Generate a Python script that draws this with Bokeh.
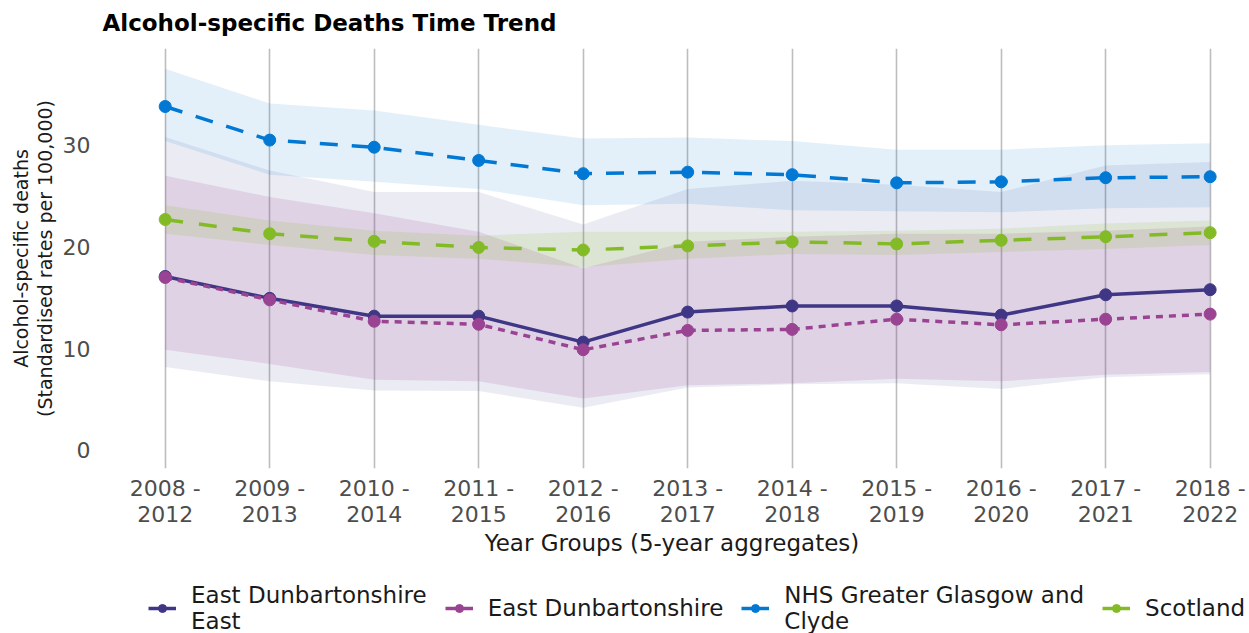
from bokeh.plotting import figure
from bokeh.layouts import column
from bokeh.models import Legend, LegendItem, FixedTicker
from bokeh.embed import file_html
from bokeh.resources import INLINE

# ---------------- data ----------------
year_groups = ["2008 -\n2012", "2009 -\n2013", "2010 -\n2014", "2011 -\n2015", "2012 -\n2016",
               "2013 -\n2017", "2014 -\n2018", "2015 -\n2019", "2016 -\n2020", "2017 -\n2021",
               "2018 -\n2022"]

ede_rate = [17.1, 14.95, 13.2, 13.2, 10.65, 13.6, 14.2, 14.2, 13.3, 15.3, 15.8]
ede_upper = [30.8, 27.5, 25.4, 25.4, 22.2, 25.7, 26.5, 26.1, 25.4, 28.0, 28.35]
ede_lower = [8.2, 6.8, 5.9, 5.85, 4.2, 6.2, 6.5, 6.6, 6.05, 7.2, 7.5]

ed_rate = [17.0, 14.8, 12.7, 12.4, 9.9, 11.8, 11.9, 12.9, 12.35, 12.9, 13.4]
ed_upper = [27.0, 24.9, 23.3, 21.5, 17.9, 20.5, 21.0, 21.3, 21.3, 21.6, 22.0]
ed_lower = [9.9, 8.5, 6.95, 6.8, 5.1, 6.4, 6.6, 7.05, 6.8, 7.45, 7.7]

ggc_rate = [33.8, 30.5, 29.8, 28.5, 27.2, 27.35, 27.1, 26.3, 26.4, 26.8, 26.9]
ggc_upper = [37.5, 34.1, 33.4, 32.0, 30.65, 30.75, 30.4, 29.55, 29.55, 30.0, 30.2]
ggc_lower = [30.4, 27.1, 26.4, 25.7, 24.1, 24.25, 23.6, 23.5, 23.4, 23.8, 23.9]

scot_rate = [22.7, 21.3, 20.55, 19.95, 19.7, 20.1, 20.5, 20.3, 20.65, 21.0, 21.4]
scot_upper = [24.1, 22.6, 21.6, 21.1, 21.5, 21.5, 21.5, 21.6, 21.8, 22.3, 22.6]
scot_lower = [21.3, 20.2, 19.2, 18.85, 18.0, 18.85, 19.3, 19.2, 19.5, 19.8, 20.2]

series_names = ["East Dunbartonshire\nEast", "East Dunbartonshire",
                "NHS Greater Glasgow and\nClyde", "Scotland"]
y_ticks = [0, 10, 20, 30]
chart_title = "Alcohol-specific Deaths Time Trend"

x = list(range(len(year_groups)))

FONT = "DejaVu Sans"
LEFT, RIGHT, FRAME_W = 102, 8, 1139


def strip(frame_h, **kw):
    f = figure(frame_width=FRAME_W + RIGHT, frame_height=frame_h, x_range=(0, 1),
               y_range=(-100, -99), output_backend="svg", toolbar_location=None,
               min_border_left=LEFT, min_border_right=0, min_border_bottom=0, **kw)
    f.xaxis.visible = False
    f.yaxis.visible = False
    f.xgrid.visible = False
    f.ygrid.visible = False
    f.outline_line_color = None
    return f


# ---------------- title strip ----------------
tt = strip(1, title=chart_title, min_border_top=35)
tt.title.text_font = FONT
tt.title.text_font_size = "23px"
tt.title.text_font_style = "bold"
tt.title.text_color = "#000000"
tt.title.align = "left"
tt.title.standoff = 0

# ---------------- main plot ----------------
p = figure(frame_width=FRAME_W, frame_height=420, x_range=(-0.6, 10.3), y_range=(-1.77, 39.5),
           output_backend="svg", toolbar_location=None,
           min_border_left=LEFT, min_border_right=RIGHT, min_border_top=12, min_border_bottom=88)

p.outline_line_color = None
p.background_fill_color = "white"
p.border_fill_color = "white"

p.xgrid.grid_line_color = "#bdbdbd"
p.xgrid.grid_line_width = 1.6
p.ygrid.grid_line_color = None

p.xaxis.ticker = FixedTicker(ticks=x)
p.xaxis.major_label_overrides = {i: lab for i, lab in zip(x, year_groups)}
p.yaxis.ticker = FixedTicker(ticks=y_ticks)

for ax in (p.xaxis, p.yaxis):
    ax.axis_line_color = None
    ax.major_tick_line_color = None
    ax.minor_tick_line_color = None
    ax.major_label_text_font = FONT
    ax.major_label_text_font_size = "22px"
    ax.major_label_text_color = "#4d4d4d"
    ax.major_label_text_line_height = 1.05
    ax.axis_label_text_font = FONT
    ax.axis_label_text_font_style = "normal"
    ax.axis_label_text_color = "#1a1a1a"
    ax.axis_label_text_line_height = 1.05

p.xaxis.axis_label = "Year Groups (5-year aggregates)"
p.xaxis.axis_label_text_font_size = "23px"
p.xaxis.major_label_standoff = 1
p.xaxis.axis_label_standoff = 0
p.yaxis.axis_label = "Alcohol-specific deaths\n(Standardised rates per 100,000)"
p.yaxis.axis_label_text_font_size = "19px"
p.yaxis.major_label_standoff = 6
p.yaxis.axis_label_standoff = 4

c_ede = "#3F3685"
c_ed = "#9B4393"
c_ggc = "#0078D4"
c_scot = "#83BB26"

# ribbons (confidence intervals)
p.varea(x=x, y1=ede_lower, y2=ede_upper, fill_color=c_ede, fill_alpha=0.10)
p.varea(x=x, y1=ed_lower, y2=ed_upper, fill_color=c_ed, fill_alpha=0.15)
p.varea(x=x, y1=ggc_lower, y2=ggc_upper, fill_color=c_ggc, fill_alpha=0.11)
p.varea(x=x, y1=scot_lower, y2=scot_upper, fill_color=c_scot, fill_alpha=0.15)

specs = [
    (series_names[0], ede_rate, c_ede, "solid"),
    (series_names[1], ed_rate, c_ed, "7 6"),
    (series_names[2], ggc_rate, c_ggc, "18 14"),
    (series_names[3], scot_rate, c_scot, "18 16"),
]
for name, vals, col, dash in specs:
    p.line(x, vals, line_color=col, line_width=3.5, line_dash=dash)
    p.scatter(x, vals, size=12, fill_color=col, line_color=col)

# ---------------- legend strip ----------------
lg = strip(76, min_border_top=0)
items = []
for name, vals, col, dash in specs:
    # series drawn outside this strip's ranges: only their legend keys are seen
    ln = lg.line(x, vals, line_color=col, line_width=3.5)
    sc = lg.scatter(x, vals, size=11, fill_color=col, line_color=col)
    items.append(LegendItem(label=name, renderers=[ln, sc]))

legend = Legend(items=items, orientation="horizontal", location=(46, 0),
                label_text_font=FONT, label_text_font_size="23px",
                label_text_line_height=1.0,
                label_text_color="#1a1a1a", glyph_width=28, label_standoff=15,
                spacing=18, border_line_color=None, background_fill_alpha=0,
                margin=0, padding=2)
lg.add_layout(legend)

layout = column(tt, p, lg, spacing=0)
open("out.html", "w").write(file_html(layout, INLINE))
